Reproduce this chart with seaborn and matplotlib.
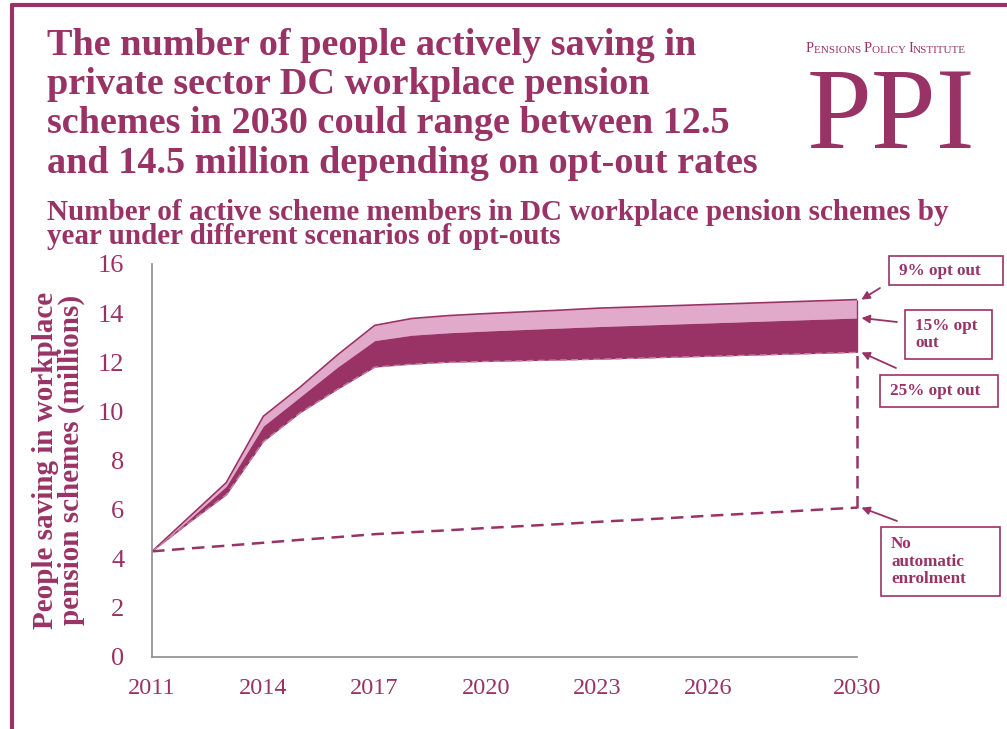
import pandas as pd
import seaborn as sns
import matplotlib.pyplot as plt
from matplotlib.patches import Rectangle
from matplotlib.lines import Line2D

# data (millions of active members)
years = list(range(2011, 2031))
opt_out_9 = [4.3, 5.7, 7.1, 9.8, 11.0, 12.3, 13.5, 13.78, 13.9, 13.98, 14.05,
             14.12, 14.2, 14.25, 14.3, 14.35, 14.4, 14.45, 14.5, 14.55]
opt_out_15 = [4.3, 5.6, 6.95, 9.4, 10.6, 11.8, 12.88, 13.1, 13.2, 13.27, 13.33,
              13.39, 13.45, 13.5, 13.55, 13.6, 13.65, 13.7, 13.75, 13.8]
opt_out_25 = [4.3, 5.47, 6.6, 8.77, 9.95, 10.9, 11.8, 11.92, 12.0, 12.03, 12.06,
              12.09, 12.12, 12.16, 12.2, 12.24, 12.28, 12.32, 12.36, 12.4]
no_auto_enrol = [4.3, 4.42, 4.53, 4.65, 4.77, 4.88, 5.0, 5.08, 5.16, 5.25, 5.33,
                 5.41, 5.5, 5.58, 5.66, 5.75, 5.83, 5.91, 6.0, 6.08]
year_labels = [2011, 2014, 2017, 2020, 2023, 2026, 2030]
y_ticks = [0, 2, 4, 6, 8, 10, 12, 14, 16]

df = pd.DataFrame({"year": years, "opt9": opt_out_9, "opt15": opt_out_15,
                   "opt25": opt_out_25, "noae": no_auto_enrol})

PLUM = "#993366"
PINK = "#E2AACA"
GREY = "#8c8c8c"
SERIF = ["Liberation Serif", "DejaVu Serif"]

sns.set_style("white")
plt.rcParams["font.family"] = SERIF

fig = plt.figure(figsize=(10.07, 7.29), dpi=100)
ax = fig.add_axes([0.151, 0.0988, 0.7, 0.5391])

# bands between the opt-out scenarios
ax.fill_between(df["year"], df["opt15"], df["opt9"], color=PINK, lw=0)
ax.fill_between(df["year"], df["opt25"], df["opt15"], color=PLUM, lw=0)
sns.lineplot(data=df, x="year", y="opt9", ax=ax, color=PLUM, lw=1.2)
sns.lineplot(data=df, x="year", y="opt25", ax=ax, color="#c77fa5", lw=1.0,
             linestyle=(0, (5, 3)))
sns.lineplot(data=df, x="year", y="noae", ax=ax, color=PLUM, lw=1.8,
             linestyle=(0, (5, 3)))
ax.vlines(years[-1], no_auto_enrol[-1], opt_out_25[-1], color=PLUM, lw=1.8,
          linestyles=(0, (5, 3)), clip_on=False)
ax.vlines(years[-1], opt_out_25[-1], opt_out_9[-1], color=PLUM, lw=1.0,
          clip_on=False)

ax.set_xlim(2011, 2030)
ax.set_ylim(0, 16)
ax.set_xticks(years)
ax.set_xticklabels([str(y) if y in year_labels else "" for y in years])
ax.set_yticks(y_ticks)
ax.tick_params(axis="both", colors=GREY, labelcolor=PLUM, length=7, width=1,
               direction="out")
ax.tick_params(axis="x", pad=8, labelsize=17.5)
ax.tick_params(axis="y", pad=13, labelsize=19)
ax.set_xlabel("")
ax.set_ylabel("")
sns.despine(ax=ax)
for s in ["left", "bottom"]:
    ax.spines[s].set_color(GREY)
    ax.spines[s].set_linewidth(1.2)

# axis title
fig.text(0.058, 0.369, "People saving in workplace\npension schemes (millions)",
         rotation=90, ha="center", va="center", color=PLUM, fontsize=21,
         fontweight="bold", linespacing=0.92)

# titles
fig.text(0.047, 0.962, "The number of people actively saving in\n"
         "private sector DC workplace pension\n"
         "schemes in 2030 could range between 12.5\n"
         "and 14.5 million depending on opt-out rates",
         ha="left", va="top", color=PLUM, fontsize=27.5, fontweight="bold",
         linespacing=1.16)
fig.text(0.047, 0.727, "Number of active scheme members in DC workplace pension schemes by\n"
         "year under different scenarios of opt-outs",
         ha="left", va="top", color=PLUM, fontsize=21, fontweight="bold",
         linespacing=0.84)

# logo
fig.text(0.885, 0.797, "PPI", ha="center", va="baseline", color=PLUM, fontsize=84)
pieces = [("P", 10.5), ("ENSIONS ", 8), ("P", 10.5), ("OLICY ", 8),
          ("I", 10.5), ("NSTITUTE", 8)]
texts = []
for i, (txt, size) in enumerate(pieces):
    if i == 0:
        t = fig.text(0.8, 0.928, txt, color=PLUM, fontsize=size,
                     ha="left", va="baseline")
    else:
        t = ax.annotate(txt, xy=(1, 0), xycoords=texts[-1], xytext=(0, 0),
                        textcoords="offset points", color=PLUM, fontsize=size,
                        ha="left", va="bottom", annotation_clip=False)
    texts.append(t)

# frame
fig.add_artist(Line2D([12 / 1007, 12 / 1007], [0, 1 - 5 / 729], color=PLUM, lw=3))
fig.add_artist(Line2D([12 / 1007, 1], [1 - 5 / 729, 1 - 5 / 729], color=PLUM, lw=3))

# callout boxes
boxes = [
    ("9% opt out", (889, 256, 114, 29), opt_out_9[-1], (880, 288)),
    ("15% opt\nout", (905, 310, 87, 49), opt_out_15[-1], (897, 322)),
    ("25% opt out", (880, 375, 118, 32), opt_out_25[-1], (896, 368)),
    ("No\nautomatic\nenrolment", (881, 527, 119, 69), no_auto_enrol[-1], (897, 521)),
]
for label, (bx, by, bw, bh), val, (sx, sy) in boxes:
    fig.add_artist(Rectangle((bx / 1007, 1 - (by + bh) / 729), bw / 1007, bh / 729,
                             transform=fig.transFigure, facecolor="white",
                             edgecolor=PLUM, lw=1.2))
    fig.text((bx + 10) / 1007, 1 - (by + bh / 2) / 729, label, ha="left",
             va="center", color=PLUM, fontsize=12.3, fontweight="bold",
             linespacing=1.12)
    ax.annotate("", xy=(2030.12, val), xycoords="data",
                xytext=(sx, 729 - sy), textcoords="figure pixels",
                arrowprops=dict(arrowstyle="-|>", color=PLUM, lw=1.3,
                                mutation_scale=12, shrinkA=0, shrinkB=0),
                annotation_clip=False)

fig.savefig("out.png", dpi=100)
